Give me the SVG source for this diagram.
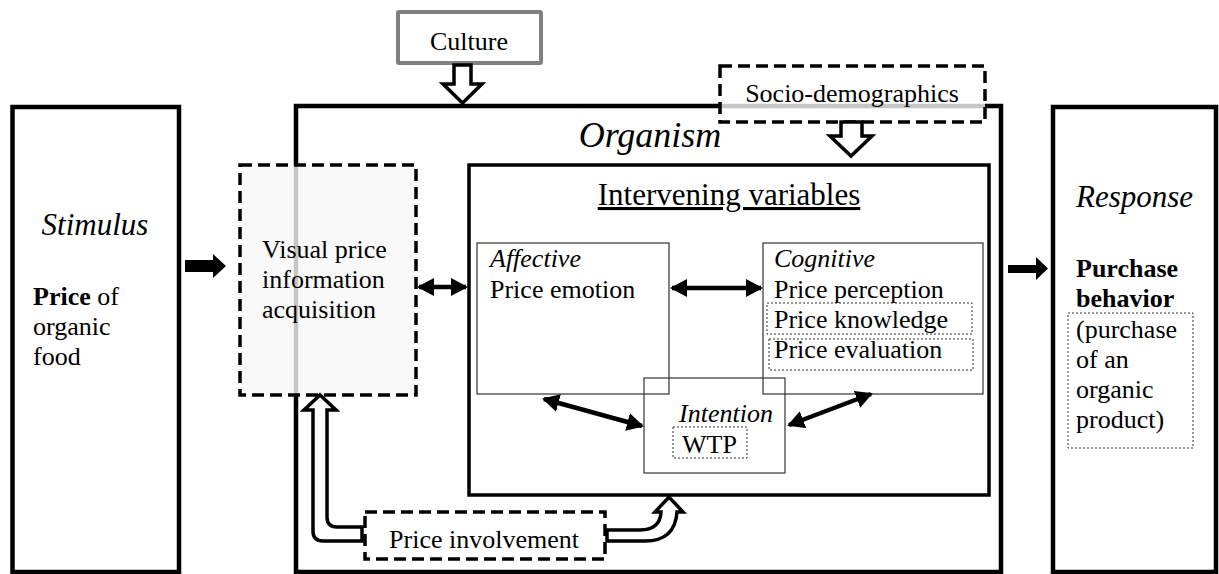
<svg xmlns="http://www.w3.org/2000/svg" width="1219" height="574" viewBox="0 0 1219 574" font-family="'Liberation Serif', 'Times New Roman', Times, 'DejaVu Serif', serif">
<style>
text{font-family:'Liberation Serif','Times New Roman',Times,'DejaVu Serif',serif;fill:#000;font-size:26px}
text.s31{font-size:31px}
text.s36{font-size:36px}
.it{font-style:italic}
.b{font-weight:bold}
.big{stroke:#000;stroke-width:4.5;fill:none}
.thin{stroke:#333;stroke-width:1.2;fill:none}
.dot{stroke:#333;stroke-width:1;stroke-dasharray:2 2;fill:none}
.dash{stroke:#000;stroke-width:3.5;stroke-dasharray:12 6}
.dbl{stroke:#000;stroke-width:4.5;fill:none;marker-start:url(#ah);marker-end:url(#ah)}
.hollow{fill:#fff;stroke:#000;stroke-width:3.5;stroke-linejoin:miter}
</style>
<defs>
<marker id="ah" viewBox="0 0 17 18" refX="15" refY="9" markerWidth="17" markerHeight="18" markerUnits="userSpaceOnUse" orient="auto-start-reverse">
<path d="M0,0 L17,9 L0,18 Z" fill="#000"/>
</marker>
</defs>
<rect width="1219" height="574" fill="#fff"/>

<g id="stimulus">
<rect class="big" x="12.5" y="107" width="166.5" height="465"/>
<text class="it s31" x="95" y="235" text-anchor="middle">Stimulus</text>
<text x="33" y="305"><tspan class="b">Price</tspan> of</text>
<text x="33" y="335">organic</text>
<text x="33" y="365">food</text>
</g>

<g id="organism">
<rect class="big" x="296" y="106" width="705" height="466"/>
<text class="it s36" x="650" y="147" text-anchor="middle">Organism</text>
</g>

<g id="response">
<rect class="big" x="1053" y="107" width="163" height="465"/>
<text class="it s31" x="1076" y="207">Response</text>
<text class="b" x="1076" y="277">Purchase</text>
<text class="b" x="1076" y="307">behavior</text>
<rect class="dot" x="1068" y="313" width="125" height="135"/>
<text x="1076" y="338">(purchase</text>
<text x="1076" y="368">of an</text>
<text x="1076" y="398">organic</text>
<text x="1076" y="428">product)</text>
</g>

<g id="culture">
<rect x="398" y="12" width="143" height="51" fill="#fff" stroke="#808080" stroke-width="4" rx="1"/>
<text x="469" y="50" text-anchor="middle">Culture</text>
</g>

<g id="socio">
<rect class="dash" x="720" y="66" width="265" height="56" fill="#fff" fill-opacity="0.78"/>
<text x="852" y="102" text-anchor="middle">Socio-demographics</text>
</g>

<g id="visual">
<rect class="dash" x="240" y="165" width="176" height="230" fill="#f7f7f7" fill-opacity="0.8"/>
<text x="262" y="258">Visual price</text>
<text x="262" y="288">information</text>
<text x="262" y="318">acquisition</text>
</g>

<g id="intervening">
<rect x="469" y="165" width="520" height="330" fill="none" stroke="#000" stroke-width="3.5"/>
<text class="s31" x="729" y="205" text-anchor="middle" text-decoration="underline">Intervening variables</text>
</g>

<g id="affective">
<rect class="thin" x="477" y="243" width="192" height="151"/>
<text class="it" x="490" y="267">Affective</text>
<text x="490" y="298">Price emotion</text>
</g>

<g id="cognitive">
<rect class="thin" x="763" y="243" width="220" height="151"/>
<text class="it" x="774" y="267">Cognitive</text>
<text x="774" y="298">Price perception</text>
<rect class="dot" x="767" y="303" width="205" height="31"/>
<text x="774" y="328">Price knowledge</text>
<rect class="dot" x="769" y="339" width="204" height="31"/>
<text x="774" y="358">Price evaluation</text>
</g>

<g id="intention">
<rect class="thin" x="644" y="378" width="141" height="95" stroke="#555"/>
<text class="it" x="726" y="422" text-anchor="middle">Intention</text>
<rect class="dot" x="673" y="427" width="74" height="31"/>
<text x="682" y="453">WTP</text>
</g>

<g id="involvement">
<rect class="dash" x="365" y="512" width="240" height="47" fill="none"/>
<text x="484" y="548" text-anchor="middle">Price involvement</text>
</g>

<g id="connectors">
<path class="hollow" d="M454,65 L471,65 L471,84 L482,84 L462.5,103 L443,84 L454,84 Z"/>
<path class="hollow" d="M841,122 L862,122 L862,136 L872,136 L851,156 L830,136 L841,136 Z"/>
<path d="M185,260 L213,260 L213,254 L226,266 L213,278 L213,272 L185,272 Z" fill="#000"/>
<path d="M1008,265 L1036,265 L1036,257 L1048,268.5 L1036,280 L1036,273 L1008,273 Z" fill="#000"/>
<line class="dbl" x1="419" y1="287" x2="466" y2="287"/>
<line class="dbl" x1="672" y1="288" x2="761" y2="288"/>
<line class="dbl" x1="544" y1="399" x2="642" y2="426"/>
<line class="dbl" x1="789" y1="425" x2="871" y2="394"/>
<path class="hollow" d="M362,527 L337,527 Q327,527 327,517 L327,410 L336,410 L320,395 L304,410 L313,410 L313,531 Q313,541 323,541 L362,541 Z"/>
<path class="hollow" d="M607,530 L640,530 Q660,530 661,512 L655,512 L669,497 L683,512 L677,512 Q675,541 645,541 L607,541 Z"/>
</g>
</svg>
